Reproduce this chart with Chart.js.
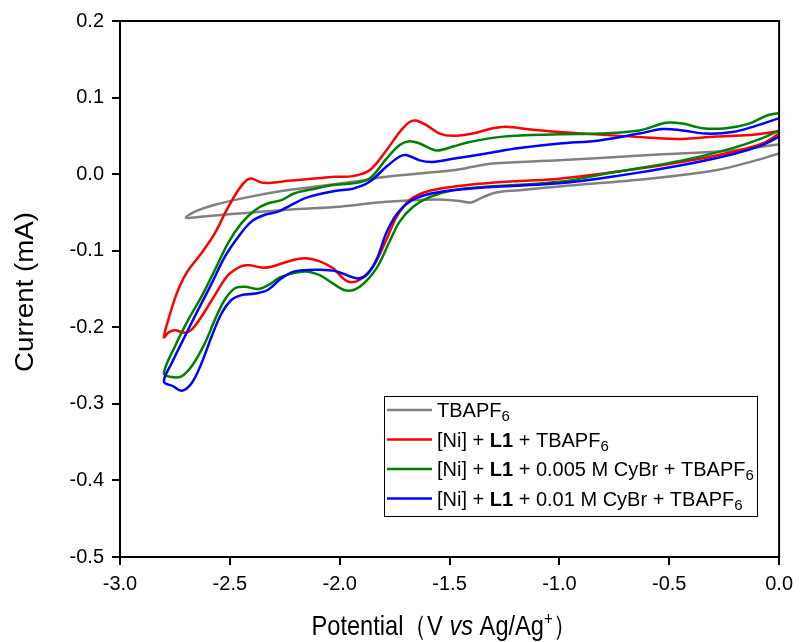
<!DOCTYPE html>
<html lang="en">
<head>
  <meta charset="UTF-8">
  <title>Cyclic voltammograms</title>
  <script src="https://cdn.jsdelivr.net/npm/chart.js"></script>
  <style>
    body {
      margin: 0;
      background: #ffffff;
    }
    #wrap {
      width: 800px;
      height: 642px;
    }
  </style>
</head>
<body>
  <div id="wrap">
    <canvas id="chart" width="800" height="642"></canvas>
  </div>

  <script>
    // potential (V vs Ag/Ag+) and current (mA)
    // each scan: cathodic sweep 0 -> -2.8 V, then back to 0 V
    const grayV = [0, -0.106, -0.288, -0.591, -1.0, -1.182, -1.288, -1.348, -1.402, -1.455, -1.561, -1.788, -2.023, -2.265, -2.492, -2.644, -2.700,
      -2.659, -2.568, -2.417, -2.265, -2.114, -1.940, -1.788, -1.485, -1.394, -1.303, -1.0, -0.591, -0.212, 0];
    const grayI = [0.027, 0.018, 0.005, -0.006, -0.016, -0.021, -0.024, -0.030, -0.037, -0.035, -0.033, -0.036, -0.043, -0.047, -0.052, -0.056, -0.057,
      -0.049, -0.040, -0.030, -0.022, -0.0165, -0.010, -0.0035, 0.005, 0.0096, 0.014, 0.018, 0.025, 0.031, 0.039];

    const redV = [0, -0.076, -0.212, -0.439, -0.742, -1.0, -1.182, -1.333, -1.485, -1.606, -1.682, -1.742, -1.788, -1.849, -1.909, -1.955,
      -1.985, -2.030, -2.091, -2.159, -2.235, -2.311, -2.356, -2.409, -2.447, -2.508, -2.568, -2.629, -2.674, -2.705, -2.750, -2.780, -2.800,
      -2.780, -2.742, -2.697, -2.629, -2.568, -2.515, -2.462, -2.424, -2.401, -2.356, -2.300, -2.235, -2.114, -2.023, -1.940, -1.864, -1.788,
      -1.727, -1.682, -1.652, -1.606, -1.545, -1.485, -1.394, -1.303, -1.242, -1.121, -1.0, -0.894, -0.667, -0.470, -0.288, -0.136, 0];
    const redI = [0.053, 0.040, 0.029, 0.016, 0.003, -0.006, -0.009, -0.012, -0.0165, -0.023, -0.034, -0.056, -0.086, -0.121, -0.138, -0.141,
      -0.136, -0.123, -0.114, -0.110, -0.114, -0.121, -0.122, -0.119, -0.120, -0.132, -0.158, -0.186, -0.203, -0.207, -0.204, -0.207, -0.213,
      -0.190, -0.156, -0.129, -0.103, -0.077, -0.047, -0.021, -0.008, -0.0057, -0.011, -0.011, -0.0087, -0.0057, -0.0035, -0.0026, 0.005, 0.031,
      0.055, 0.068, 0.070, 0.064, 0.053, 0.050, 0.053, 0.060, 0.062, 0.058, 0.055, 0.053, 0.049, 0.046, 0.049, 0.051, 0.056];

    const greenV = [0, -0.076, -0.212, -0.439, -0.742, -1.0, -1.333, -1.485, -1.591, -1.667, -1.727, -1.773, -1.833, -1.909, -1.970,
      -2.030, -2.091, -2.159, -2.265, -2.326, -2.371, -2.432, -2.477, -2.523, -2.568, -2.614, -2.674, -2.720, -2.765, -2.800,
      -2.750, -2.689, -2.629, -2.568, -2.508, -2.447, -2.386, -2.326, -2.265, -2.205, -2.114, -2.023, -1.940, -1.864, -1.788, -1.727,
      -1.682, -1.636, -1.561, -1.485, -1.409, -1.258, -1.0, -0.818, -0.636, -0.515, -0.439, -0.348, -0.242, -0.136, -0.061, 0];
    const greenI = [0.057, 0.047, 0.034, 0.018, 0.003, -0.010, -0.0165, -0.021, -0.030, -0.043, -0.062, -0.088, -0.123, -0.147, -0.152,
      -0.143, -0.132, -0.127, -0.134, -0.145, -0.150, -0.147, -0.149, -0.164, -0.190, -0.221, -0.251, -0.264, -0.265, -0.260,
      -0.225, -0.190, -0.160, -0.125, -0.090, -0.064, -0.047, -0.038, -0.034, -0.025, -0.019, -0.014, -0.012, -0.0057, 0.020, 0.038,
      0.043, 0.040, 0.031, 0.036, 0.042, 0.049, 0.052, 0.053, 0.057, 0.067, 0.066, 0.060, 0.060, 0.066, 0.076, 0.080];

    const blueV = [0, -0.076, -0.212, -0.439, -0.742, -1.0, -1.333, -1.485, -1.606, -1.682, -1.742, -1.788, -1.833, -1.879, -1.924,
      -2.015, -2.091, -2.205, -2.265, -2.326, -2.386, -2.447, -2.492, -2.538, -2.583, -2.629, -2.674, -2.720, -2.758, -2.800,
      -2.765, -2.705, -2.644, -2.583, -2.523, -2.462, -2.402, -2.341, -2.280, -2.220, -2.144, -2.023, -1.940, -1.864, -1.788, -1.727,
      -1.697, -1.636, -1.576, -1.485, -1.333, -1.182, -1.0, -0.818, -0.636, -0.530, -0.439, -0.333, -0.212, -0.106, 0];
    const blueI = [0.049, 0.038, 0.026, 0.012, -0.0026, -0.012, -0.017, -0.021, -0.027, -0.036, -0.053, -0.077, -0.112, -0.132, -0.136,
      -0.127, -0.125, -0.127, -0.136, -0.151, -0.156, -0.158, -0.164, -0.182, -0.212, -0.247, -0.273, -0.283, -0.277, -0.271,
      -0.247, -0.212, -0.177, -0.143, -0.108, -0.082, -0.062, -0.053, -0.049, -0.040, -0.030, -0.022, -0.019, -0.010, 0.0096, 0.023,
      0.025, 0.018, 0.016, 0.020, 0.027, 0.034, 0.040, 0.044, 0.053, 0.059, 0.057, 0.053, 0.055, 0.063, 0.073];

    // legend labels as text runs (sub = subscript, b = bold)
    const seriesNames = [
      [['TBAPF'], ['6', 'sub']],
      [['[Ni] + '], ['L1', 'b'], [' + TBAPF'], ['6', 'sub']],
      [['[Ni] + '], ['L1', 'b'], [' + 0.005 M CyBr + TBAPF'], ['6', 'sub']],
      [['[Ni] + '], ['L1', 'b'], [' + 0.01 M CyBr + TBAPF'], ['6', 'sub']]
    ];
    const seriesColors = ['#808080', '#ff0000', '#008000', '#0000ff'];

    const xTitleRuns = [['Potential（V '], ['vs', 'i'], [' Ag/Ag'], ['+', 'sup'], ['）']];
    const yTitle = 'Current (mA)';

    const FONT = "'Liberation Sans', Arial, sans-serif";

    function zip(vs, is) {
      return vs.map((v, k) => ({ x: v, y: is[k] }));
    }

    const allV = [grayV, redV, greenV, blueV];
    const allI = [grayI, redI, greenI, blueI];

    const datasets = allV.map((vs, k) => ({
      label: seriesNames[k].map(r => r[0]).join(''),
      data: zip(vs, allI[k]),
      borderColor: seriesColors[k],
      backgroundColor: seriesColors[k],
      borderWidth: 2.5,
      pointRadius: 0,
      showLine: true,
      tension: 0.35,
      order: 4 - k
    }));

    function runFont(style, size) {
      if (style === 'b') return 'bold ' + size + 'px ' + FONT;
      if (style === 'i') return 'italic ' + size + 'px ' + FONT;
      if (style === 'sub') return Math.round(size * 0.75) + 'px ' + FONT;
      if (style === 'sup') return Math.round(size * 0.65) + 'px ' + FONT;
      return size + 'px ' + FONT;
    }

    // draws runs on the alphabetic baseline y
    function drawRuns(ctx, runs, x, y, size) {
      let cx = x;
      runs.forEach(r => {
        ctx.font = runFont(r[1], size);
        let dy = 0;
        if (r[1] === 'sub') dy = size * 0.2;
        if (r[1] === 'sup') dy = -size * 0.37;
        ctx.fillText(r[0], cx, y + dy);
        cx += ctx.measureText(r[0]).width;
      });
      return cx - x;
    }

    function runsWidth(ctx, runs, size) {
      let w = 0;
      runs.forEach(r => {
        ctx.font = runFont(r[1], size);
        w += ctx.measureText(r[0]).width;
      });
      return w;
    }

    // box around the plot, custom legend and axis titles
    const decor = {
      id: 'decor',
      afterDraw(chart) {
        const ctx = chart.ctx;
        const a = chart.chartArea;
        ctx.save();
        ctx.strokeStyle = '#000';
        ctx.lineWidth = 2;
        ctx.strokeRect(a.left, a.top, a.right - a.left, a.bottom - a.top);

        // legend
        const lx = 384, ly = 396, lw = 373, lh = 120;
        ctx.lineWidth = 1;
        ctx.strokeRect(lx + 0.5, ly + 0.5, lw, lh);
        ctx.textBaseline = 'alphabetic';
        ctx.textAlign = 'left';
        seriesNames.forEach((runs, k) => {
          const yy = ly + 14 + k * 29.5;
          ctx.strokeStyle = seriesColors[k];
          ctx.lineWidth = 2.5;
          ctx.beginPath();
          ctx.moveTo(lx + 3, yy);
          ctx.lineTo(lx + 48, yy);
          ctx.stroke();
          ctx.fillStyle = '#000';
          drawRuns(ctx, runs, lx + 53, yy + 7, 20);
        });

        // x title, a little condensed like the original
        const size = 28;
        const w = runsWidth(ctx, xTitleRuns, size);
        const sx = 265 / w;
        ctx.save();
        ctx.translate(444 - 265 / 2, 635);
        ctx.scale(sx, 1);
        drawRuns(ctx, xTitleRuns, 0, 0, size);
        ctx.restore();

        // y title, rotated
        ctx.save();
        ctx.font = '25px ' + FONT;
        const wy = ctx.measureText(yTitle).width;
        ctx.translate(33, 292);
        ctx.rotate(-Math.PI / 2);
        ctx.scale(160 / wy, 1);
        ctx.textAlign = 'center';
        ctx.fillText(yTitle, 0, 0);
        ctx.restore();

        ctx.restore();
      }
    };

    const fmt = v => (Math.abs(v) < 1e-9 ? 0 : v).toFixed(1);

    const ctx = document.getElementById('chart').getContext('2d');

    new Chart(ctx, {
      type: 'scatter',
      data: { datasets: datasets },
      options: {
        responsive: false,
        animation: false,
        layout: { padding: { left: 0, top: 21, right: 20, bottom: 0 } },
        plugins: {
          legend: { display: false },
          tooltip: { enabled: false }
        },
        scales: {
          x: {
            type: 'linear',
            min: -3,
            max: 0,
            afterFit(s) { s.height = 85; },
            ticks: {
              stepSize: 0.5,
              color: '#000',
              font: { family: FONT, size: 20 },
              padding: 7,
              maxRotation: 0,
              callback: fmt
            },
            grid: { drawOnChartArea: false, drawTicks: true, tickLength: 8, color: '#000', lineWidth: 2 },
            border: { display: true, color: '#000', width: 2 }
          },
          y: {
            type: 'linear',
            min: -0.5,
            max: 0.2,
            afterFit(s) { s.width = 120; },
            ticks: {
              stepSize: 0.1,
              color: '#000',
              font: { family: FONT, size: 20 },
              padding: 8,
              callback: fmt
            },
            grid: { drawOnChartArea: false, drawTicks: true, tickLength: 8, color: '#000', lineWidth: 2 },
            border: { display: true, color: '#000', width: 2 }
          }
        }
      },
      plugins: [decor]
    });
  </script>
</body>
</html>
